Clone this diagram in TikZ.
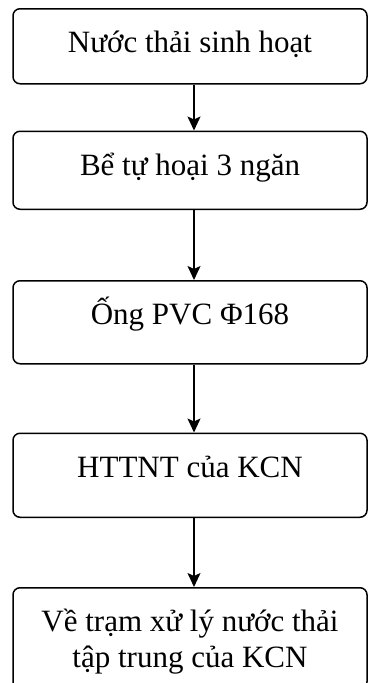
\documentclass[tikz,border=0pt]{standalone}
\usepackage{fontspec}
\setmainfont{Liberation Serif}
\usetikzlibrary{positioning,arrows.meta}

\begin{document}
\begin{tikzpicture}[x=1pt, y=1pt,
    box/.style={draw, line width=1.5pt, rounded corners=7pt, minimum width=354pt,
      inner xsep=0pt, inner ysep=0pt, text height=44pt, align=center,
      font=\fontsize{31}{36}\selectfont},
    flow/.style={line width=1.5pt, -{Stealth[length=14pt, width=13pt, inset=3pt]}}]
    \useasboundingbox (0,0) rectangle (368,-683);
    % treatment steps, top to bottom
    \node[box, text depth=31pt, anchor=north] (nuocthai) at (190,-8) {Nước thải sinh hoạt};
    \node[box, text depth=34pt, below=46pt of nuocthai] (bephot) {Bể tự hoại 3 ngăn};
    \node[box, text depth=39pt, below=70pt of bephot] (ongpvc) {Ống PVC Φ168};
    \node[box, text depth=40pt, below=68pt of ongpvc] (httnt) {HTTNT của KCN};
    % two lines: baseline sits on the last one
    \node[box, text height=80pt, text depth=21pt, below=69pt of httnt] (tramxl) {Về trạm xử lý nước thải\\tập trung của KCN};
    % arrows between steps
    \foreach \from/\to in {nuocthai/bephot, bephot/ongpvc, ongpvc/httnt, httnt/tramxl}{
      \draw[flow] ([xshift=4pt]\from.south) -- ([xshift=4pt]\to.north);
    }
\end{tikzpicture}
\end{document}
